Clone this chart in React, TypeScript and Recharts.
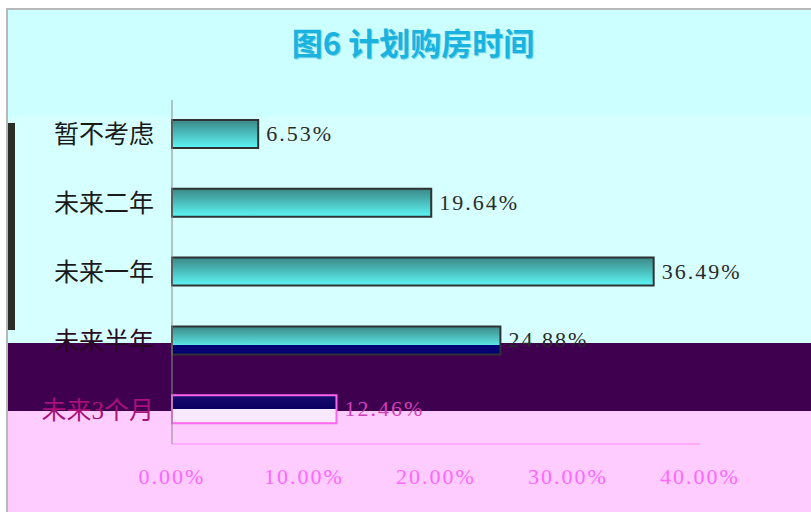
import { BarChart, Bar, XAxis, YAxis, Cell, LabelList } from 'recharts';

const categories = ['暂不考虑', '未来二年', '未来一年', '未来半年', '未来3个月'];
const shares = [6.53, 19.64, 36.49, 24.88, 12.46];
const xTicks = [0, 10, 20, 30, 40];

const tickColors = ['#1a1a1a', '#1a1a1a', '#1a1a1a', '#2a0a22', '#a8107a'];
const labelColors = ['#2a2a2a', '#2a2a2a', '#2a2a2a', '#2a2a2a', '#d040b8'];
const barFills = ['url(#barCyan)', 'url(#barCyan)', 'url(#barCyan)', 'url(#barHalf)', 'url(#barGlitch)'];
const barStrokes = ['#2f3333', '#2f3333', '#2f3333', '#2f3333', '#ff66ee'];

const data = categories.map((name, i) => ({ name, value: shares[i] }));

const serif = '"Liberation Serif", "Noto Sans CJK SC", serif';
const pct = (v: number) => v.toFixed(2) + '%';

function CategoryTick({ x, y, payload, index }: any) {
  return (
    <text x={x - 16} y={y} dy={9} textAnchor="end" fontSize={25} fontFamily={serif} fill={tickColors[index]}>
      {payload.value}
    </text>
  );
}

function ValueLabel({ x, y, width, height, value, index }: any) {
  return (
    <text
      x={x + width + 8}
      y={y + height / 2 + 7}
      fontSize={22}
      fontFamily={serif}
      letterSpacing={2}
      fill={labelColors[index]}
    >
      {pct(value)}
    </text>
  );
}

export default function App() {
  return (
    <div style={{ position: 'absolute', left: 0, top: 0, width: 811, height: 512, background: '#fff', overflow: 'hidden' }}>
      {/* background bands of the scanned picture */}
      <div style={{ position: 'absolute', left: 6, top: 8, width: 805, height: 2, background: '#b8b8b8' }} />
      <div style={{ position: 'absolute', left: 6, top: 8, width: 2, height: 504, background: '#b8b8b8' }} />
      <div style={{ position: 'absolute', left: 8, top: 10, width: 803, height: 106, background: '#ccffff' }} />
      <div style={{ position: 'absolute', left: 8, top: 116, width: 803, height: 227, background: '#d6ffff' }} />
      <div style={{ position: 'absolute', left: 8, top: 123, width: 7, height: 207, background: '#2a2e2a' }} />
      <div style={{ position: 'absolute', left: 8, top: 343, width: 803, height: 68, background: '#3f0050' }} />
      <div style={{ position: 'absolute', left: 8, top: 411, width: 803, height: 101, background: '#ffccff' }} />
      <div
        style={{
          position: 'absolute',
          left: 0,
          top: 19,
          width: 826,
          textAlign: 'center',
          fontFamily: '"Noto Sans CJK SC", sans-serif',
          fontWeight: 700,
          fontSize: 31,
          color: '#1ab3e0',
          textShadow: '1px 1px 0 #7fd8e8',
        }}
      >
        图6 计划购房时间
      </div>
      <div style={{ position: 'absolute', left: 0, top: 0 }}>
        <BarChart width={811} height={512} data={data} layout="vertical" margin={{ top: 100, right: 111, bottom: 18, left: 0 }}>
          <defs>
            <linearGradient id="barCyan" x1="0" y1="0" x2="0" y2="1">
              <stop offset="0%" stopColor="#3a8886" />
              <stop offset="100%" stopColor="#5cf7f6" />
            </linearGradient>
            <linearGradient id="barHalf" x1="0" y1="0" x2="0" y2="1">
              <stop offset="0%" stopColor="#3a8886" />
              <stop offset="68%" stopColor="#5ce6e6" />
              <stop offset="68%" stopColor="#000070" />
              <stop offset="100%" stopColor="#000070" />
            </linearGradient>
            <linearGradient id="barGlitch" x1="0" y1="0" x2="0" y2="1">
              <stop offset="0%" stopColor="#1a0a70" />
              <stop offset="50%" stopColor="#0a0060" />
              <stop offset="50%" stopColor="#f8e8ff" />
              <stop offset="100%" stopColor="#f8e8ff" />
            </linearGradient>
          </defs>
          <XAxis
            type="number"
            domain={[0, 40]}
            ticks={xTicks}
            tickFormatter={pct}
            height={50}
            tickSize={0}
            tickMargin={24}
            axisLine={{ stroke: '#ff88ff' }}
            tick={{ fill: '#ff66ff', fontSize: 22, fontFamily: serif, letterSpacing: 2 }}
          />
          <YAxis
            type="category"
            dataKey="name"
            width={172}
            tickSize={0}
            axisLine={{ stroke: '#8a8a8a' }}
            tick={<CategoryTick />}
          />
          <Bar dataKey="value" barSize={28} strokeWidth={2} isAnimationActive={false}>
            {data.map((d, i) => (
              <Cell key={d.name} fill={barFills[i]} stroke={barStrokes[i]} />
            ))}
            <LabelList dataKey="value" content={<ValueLabel />} />
          </Bar>
        </BarChart>
      </div>
    </div>
  );
}
